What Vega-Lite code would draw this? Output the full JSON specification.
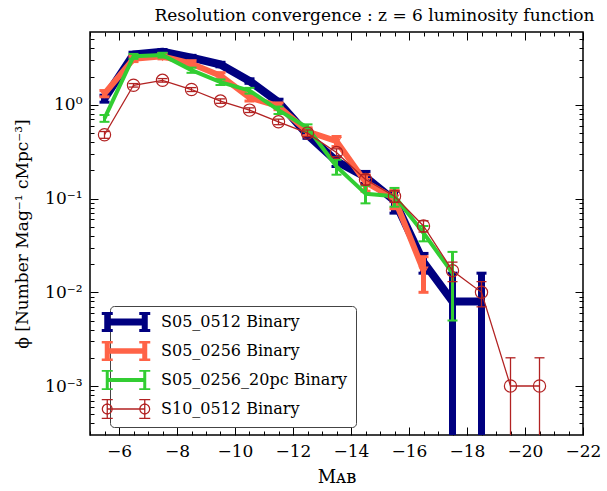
{
  "$schema": "https://vega.github.io/schema/vega-lite/v6.json",
  "width": 493,
  "height": 403,
  "autosize": "none",
  "padding": {"left": 90, "top": 32, "right": 24, "bottom": 56},
  "background": "white",
  "config": {
    "view": {"stroke": "black", "strokeWidth": 1.5},
    "font": "DejaVu Serif"
  },
  "title": {
    "text": "Resolution convergence :  z = 6 luminosity function",
    "font": "DejaVu Serif",
    "fontSize": 17,
    "fontWeight": "normal",
    "color": "black",
    "anchor": "middle",
    "frame": "group",
    "dx": 38,
    "dy": 17,
    "offset": 9,
    "baseline": "alphabetic"
  },
  "data": {
    "values": [
      {"s": "S05_0512 Binary", "M": -5.5, "phi": 1.17, "lo": 1.07, "hi": 1.27},
      {"s": "S05_0512 Binary", "M": -6.5, "phi": 3.45, "lo": 3.25, "hi": 3.65},
      {"s": "S05_0512 Binary", "M": -7.5, "phi": 3.7, "lo": 3.5, "hi": 3.9},
      {"s": "S05_0512 Binary", "M": -8.5, "phi": 3.2, "lo": 3.02, "hi": 3.38},
      {"s": "S05_0512 Binary", "M": -9.5, "phi": 2.7, "lo": 2.55, "hi": 2.85},
      {"s": "S05_0512 Binary", "M": -10.5, "phi": 1.8, "lo": 1.7, "hi": 1.9},
      {"s": "S05_0512 Binary", "M": -11.5, "phi": 1.07, "lo": 0.99, "hi": 1.15},
      {"s": "S05_0512 Binary", "M": -12.5, "phi": 0.48, "lo": 0.44, "hi": 0.52},
      {"s": "S05_0512 Binary", "M": -13.5, "phi": 0.25, "lo": 0.22, "hi": 0.28},
      {"s": "S05_0512 Binary", "M": -14.5, "phi": 0.17, "lo": 0.145, "hi": 0.195},
      {"s": "S05_0512 Binary", "M": -15.5, "phi": 0.095, "lo": 0.07, "hi": 0.12},
      {"s": "S05_0512 Binary", "M": -16.5, "phi": 0.021, "lo": 0.016, "hi": 0.026},
      {"s": "S05_0512 Binary", "M": -17.5, "phi": 0.008, "lo": 0.0001, "hi": 0.016},
      {"s": "S05_0512 Binary", "M": -18.5, "phi": 0.008, "lo": 0.0001, "hi": 0.016},
      {"s": "S05_0256 Binary", "M": -5.5, "phi": 1.32, "lo": 1.22, "hi": 1.42},
      {"s": "S05_0256 Binary", "M": -6.5, "phi": 3.1, "lo": 2.9, "hi": 3.3},
      {"s": "S05_0256 Binary", "M": -7.5, "phi": 3.3, "lo": 3.1, "hi": 3.5},
      {"s": "S05_0256 Binary", "M": -8.5, "phi": 2.75, "lo": 2.55, "hi": 2.95},
      {"s": "S05_0256 Binary", "M": -9.5, "phi": 2.05, "lo": 1.9, "hi": 2.2},
      {"s": "S05_0256 Binary", "M": -10.5, "phi": 1.2, "lo": 1.1, "hi": 1.3},
      {"s": "S05_0256 Binary", "M": -11.5, "phi": 0.97, "lo": 0.89, "hi": 1.05},
      {"s": "S05_0256 Binary", "M": -12.5, "phi": 0.52, "lo": 0.47, "hi": 0.57},
      {"s": "S05_0256 Binary", "M": -13.5, "phi": 0.41, "lo": 0.36, "hi": 0.46},
      {"s": "S05_0256 Binary", "M": -14.5, "phi": 0.15, "lo": 0.12, "hi": 0.18},
      {"s": "S05_0256 Binary", "M": -15.5, "phi": 0.1, "lo": 0.078, "hi": 0.122},
      {"s": "S05_0256 Binary", "M": -16.5, "phi": 0.017, "lo": 0.01, "hi": 0.024},
      {"s": "S05_0256_20pc Binary", "M": -5.5, "phi": 0.72, "lo": 0.66, "hi": 0.78},
      {"s": "S05_0256_20pc Binary", "M": -6.5, "phi": 3.3, "lo": 3.1, "hi": 3.5},
      {"s": "S05_0256_20pc Binary", "M": -7.5, "phi": 3.4, "lo": 3.2, "hi": 3.6},
      {"s": "S05_0256_20pc Binary", "M": -8.5, "phi": 2.35, "lo": 2.2, "hi": 2.5},
      {"s": "S05_0256_20pc Binary", "M": -9.5, "phi": 1.75, "lo": 1.63, "hi": 1.87},
      {"s": "S05_0256_20pc Binary", "M": -10.5, "phi": 1.42, "lo": 1.32, "hi": 1.52},
      {"s": "S05_0256_20pc Binary", "M": -11.5, "phi": 0.88, "lo": 0.8, "hi": 0.96},
      {"s": "S05_0256_20pc Binary", "M": -12.5, "phi": 0.57, "lo": 0.52, "hi": 0.62},
      {"s": "S05_0256_20pc Binary", "M": -13.5, "phi": 0.22, "lo": 0.18, "hi": 0.26},
      {"s": "S05_0256_20pc Binary", "M": -14.5, "phi": 0.113, "lo": 0.089, "hi": 0.137},
      {"s": "S05_0256_20pc Binary", "M": -15.5, "phi": 0.106, "lo": 0.082, "hi": 0.13},
      {"s": "S05_0256_20pc Binary", "M": -16.5, "phi": 0.043, "lo": 0.035, "hi": 0.051},
      {"s": "S05_0256_20pc Binary", "M": -17.5, "phi": 0.016, "lo": 0.005, "hi": 0.027},
      {"s": "S10_0512 Binary", "M": -5.5, "phi": 0.48, "lo": 0.44, "hi": 0.52},
      {"s": "S10_0512 Binary", "M": -6.5, "phi": 1.62, "lo": 1.55, "hi": 1.69},
      {"s": "S10_0512 Binary", "M": -7.5, "phi": 1.83, "lo": 1.75, "hi": 1.91},
      {"s": "S10_0512 Binary", "M": -8.5, "phi": 1.46, "lo": 1.39, "hi": 1.53},
      {"s": "S10_0512 Binary", "M": -9.5, "phi": 1.1, "lo": 1.04, "hi": 1.16},
      {"s": "S10_0512 Binary", "M": -10.5, "phi": 0.88, "lo": 0.83, "hi": 0.93},
      {"s": "S10_0512 Binary", "M": -11.5, "phi": 0.66, "lo": 0.615, "hi": 0.705},
      {"s": "S10_0512 Binary", "M": -12.5, "phi": 0.5, "lo": 0.46, "hi": 0.54},
      {"s": "S10_0512 Binary", "M": -13.5, "phi": 0.31, "lo": 0.28, "hi": 0.34},
      {"s": "S10_0512 Binary", "M": -14.5, "phi": 0.16, "lo": 0.14, "hi": 0.18},
      {"s": "S10_0512 Binary", "M": -15.5, "phi": 0.106, "lo": 0.091, "hi": 0.121},
      {"s": "S10_0512 Binary", "M": -16.5, "phi": 0.051, "lo": 0.044, "hi": 0.058},
      {"s": "S10_0512 Binary", "M": -17.5, "phi": 0.017, "lo": 0.013, "hi": 0.021},
      {"s": "S10_0512 Binary", "M": -18.5, "phi": 0.01, "lo": 0.007, "hi": 0.013},
      {"s": "S10_0512 Binary", "M": -19.5, "phi": 0.001, "lo": 0.0001, "hi": 0.002},
      {"s": "S10_0512 Binary", "M": -20.5, "phi": 0.001, "lo": 0.0001, "hi": 0.002}
    ]
  },
  "resolve": {"axis": {"x": "independent", "y": "independent"}},
  "layer": [
    {
      "encoding": {
        "x": {
          "field": "M", "type": "quantitative",
          "scale": {"domain": [-22, -5], "reverse": true, "nice": false, "zero": false},
          "axis": {
            "orient": "bottom",
            "values": [-5, -5.5, -6, -6.5, -7, -7.5, -8, -8.5, -9, -9.5, -10, -10.5, -11, -11.5, -12, -12.5, -13, -13.5, -14, -14.5, -15, -15.5, -16, -16.5, -17, -17.5, -18, -18.5, -19, -19.5, -20, -20.5, -21, -21.5, -22],
            "format": ".0f",
            "labelExpr": "datum.value % 2 == 0 ? datum.label : ''",
            "tickSize": {"condition": {"test": "datum.value % 2 == 0", "value": -8}, "value": -4},
            "tickColor": "black", "tickWidth": 1,
            "domain": false, "grid": false,
            "labelFont": "DejaVu Serif", "labelFontSize": 17, "labelColor": "black",
            "labelPadding": 16, "labelOverlap": false, "labelFlush": false,
            "title": "Mᴀʙ", "titleFont": "DejaVu Serif", "titleFontSize": 18,
            "titleFontWeight": "normal", "titleColor": "black", "titlePadding": 5
          }
        },
        "color": {
          "field": "s", "type": "nominal",
          "scale": {
            "domain": ["S05_0512 Binary", "S05_0256 Binary", "S05_0256_20pc Binary", "S10_0512 Binary"],
            "range": ["#000080", "#FF6347", "#32CD32", "#B22222"]
          },
          "legend": {
            "orient": "none", "legendX": 20, "legendY": 274,
            "title": null,
            "symbolType": "square",
            "symbolSize": 100,
            "labelFont": "DejaVu Serif", "labelFontSize": 16, "labelColor": "black",
            "labelOffset": 27, "labelLimit": 300,
            "padding": 8, "cornerRadius": 4,
            "strokeColor": "#444444", "fillColor": "white",
            "rowPadding": 9,
            "encode": {
              "symbols": {
                "update": {
                  "strokeWidth": {"value": 0},
                  "fill": {"scale": "color", "field": "value"},
                  "fillOpacity": {"value": 1},
                  "opacity": {"value": 1},
                  "shape": {"signal": "datum.value === 'S05_0512 Binary' ? 'M-3.75,-0.7H3.75V0.7H-3.75ZM-4.35,-2H-3.15V2H-4.35ZM3.15,-2H4.35V2H3.15ZM-4.85,-2H-2.65V-1.4H-4.85ZM-4.85,1.4H-2.65V2H-4.85ZM2.65,-2H4.85V-1.4H2.65ZM2.65,1.4H4.85V2H2.65Z' : datum.value === 'S05_0256 Binary' ? 'M-3.75,-0.55H3.75V0.55H-3.75ZM-4.25,-2H-3.25V2H-4.25ZM3.25,-2H4.25V2H3.25ZM-4.85,-2H-2.65V-1.5H-4.85ZM-4.85,1.5H-2.65V2H-4.85ZM2.65,-2H4.85V-1.5H2.65ZM2.65,1.5H4.85V2H2.65Z' : datum.value === 'S05_0256_20pc Binary' ? 'M-3.75,-0.4H3.75V0.4H-3.75ZM-4.05,-2H-3.45V2H-4.05ZM3.45,-2H4.05V2H3.45ZM-4.85,-2H-2.65V-1.65H-4.85ZM-4.85,1.65H-2.65V2H-4.85ZM2.65,-2H4.85V-1.65H2.65ZM2.65,1.65H4.85V2H2.65Z' : 'M-3.75,-0.13H3.75V0.13H-3.75ZM-3.88,-2H-3.62V2H-3.88ZM3.62,-2H3.88V2H3.62ZM-4.85,-2H-2.65V-1.74H-4.85ZM-4.85,1.74H-2.65V2H-4.85ZM2.65,-2H4.85V-1.74H2.65ZM2.65,1.74H4.85V2H2.65ZM-4.85,0A1.1,1.1 0 1,1 -2.65,0A1.1,1.1 0 1,1 -4.85,0ZM-4.61,0A0.86,0.86 0 1,0 -2.89,0A0.86,0.86 0 1,0 -4.61,0ZM2.65,0A1.1,1.1 0 1,1 4.85,0A1.1,1.1 0 1,1 2.65,0ZM2.89,0A0.86,0.86 0 1,0 4.61,0A0.86,0.86 0 1,0 2.89,0Z'"}
                }
              }
            }
          }
        }
      },
      "layer": [
        {
          "transform": [{"filter": "datum.s === 'S05_0512 Binary'"}],
          "layer": [
            {"mark": {"type": "rule", "strokeWidth": 7, "clip": true},
             "encoding": {"y": {"field": "lo", "type": "quantitative", "scale": {"type": "log", "domain": [0.0003, 6], "nice": false}, "axis": null}, "y2": {"field": "hi"}}},
            {"mark": {"type": "point", "shape": "M-1,0H1", "size": 100, "filled": false, "strokeWidth": 3, "opacity": 1, "clip": true},
             "encoding": {"y": {"field": "lo", "type": "quantitative", "scale": {"type": "log", "domain": [0.0003, 6], "nice": false}, "axis": null}}},
            {"mark": {"type": "point", "shape": "M-1,0H1", "size": 100, "filled": false, "strokeWidth": 3, "opacity": 1, "clip": true},
             "encoding": {"y": {"field": "hi", "type": "quantitative", "scale": {"type": "log", "domain": [0.0003, 6], "nice": false}, "axis": null}}},
            {"mark": {"type": "line", "strokeWidth": 8, "strokeJoin": "round", "clip": true},
             "encoding": {"y": {"field": "phi", "type": "quantitative", "scale": {"type": "log", "domain": [0.0003, 6], "nice": false}, "axis": null}}}
          ]
        },
        {
          "transform": [{"filter": "datum.s === 'S05_0256 Binary'"}],
          "layer": [
            {"mark": {"type": "rule", "strokeWidth": 5, "clip": true},
             "encoding": {"y": {"field": "lo", "type": "quantitative", "scale": {"type": "log", "domain": [0.0003, 6], "nice": false}, "axis": null}, "y2": {"field": "hi"}}},
            {"mark": {"type": "point", "shape": "M-1,0H1", "size": 100, "filled": false, "strokeWidth": 3, "opacity": 1, "clip": true},
             "encoding": {"y": {"field": "lo", "type": "quantitative", "scale": {"type": "log", "domain": [0.0003, 6], "nice": false}, "axis": null}}},
            {"mark": {"type": "point", "shape": "M-1,0H1", "size": 100, "filled": false, "strokeWidth": 3, "opacity": 1, "clip": true},
             "encoding": {"y": {"field": "hi", "type": "quantitative", "scale": {"type": "log", "domain": [0.0003, 6], "nice": false}, "axis": null}}},
            {"mark": {"type": "line", "strokeWidth": 6, "strokeJoin": "round", "clip": true},
             "encoding": {"y": {"field": "phi", "type": "quantitative", "scale": {"type": "log", "domain": [0.0003, 6], "nice": false}, "axis": null}}},
            {"mark": {"type": "point", "shape": "triangle-down", "size": 70, "filled": false, "strokeWidth": 1.2, "opacity": 1, "clip": true},
             "encoding": {"y": {"field": "phi", "type": "quantitative", "scale": {"type": "log", "domain": [0.0003, 6], "nice": false}, "axis": null}}}
          ]
        },
        {
          "transform": [{"filter": "datum.s === 'S05_0256_20pc Binary'"}],
          "layer": [
            {"mark": {"type": "rule", "strokeWidth": 3, "clip": true},
             "encoding": {"y": {"field": "lo", "type": "quantitative", "scale": {"type": "log", "domain": [0.0003, 6], "nice": false}, "axis": null}, "y2": {"field": "hi"}}},
            {"mark": {"type": "point", "shape": "M-1,0H1", "size": 100, "filled": false, "strokeWidth": 2, "opacity": 1, "clip": true},
             "encoding": {"y": {"field": "lo", "type": "quantitative", "scale": {"type": "log", "domain": [0.0003, 6], "nice": false}, "axis": null}}},
            {"mark": {"type": "point", "shape": "M-1,0H1", "size": 100, "filled": false, "strokeWidth": 2, "opacity": 1, "clip": true},
             "encoding": {"y": {"field": "hi", "type": "quantitative", "scale": {"type": "log", "domain": [0.0003, 6], "nice": false}, "axis": null}}},
            {"mark": {"type": "line", "strokeWidth": 4, "strokeJoin": "round", "clip": true},
             "encoding": {"y": {"field": "phi", "type": "quantitative", "scale": {"type": "log", "domain": [0.0003, 6], "nice": false}, "axis": null}}}
          ]
        },
        {
          "transform": [{"filter": "datum.s === 'S10_0512 Binary'"}],
          "layer": [
            {"mark": {"type": "rule", "strokeWidth": 1.3, "clip": true},
             "encoding": {"y": {"field": "lo", "type": "quantitative", "scale": {"type": "log", "domain": [0.0003, 6], "nice": false}, "axis": null}, "y2": {"field": "hi"}}},
            {"mark": {"type": "point", "shape": "M-1,0H1", "size": 100, "filled": false, "strokeWidth": 1.3, "opacity": 1, "clip": true},
             "encoding": {"y": {"field": "lo", "type": "quantitative", "scale": {"type": "log", "domain": [0.0003, 6], "nice": false}, "axis": null}}},
            {"mark": {"type": "point", "shape": "M-1,0H1", "size": 100, "filled": false, "strokeWidth": 1.3, "opacity": 1, "clip": true},
             "encoding": {"y": {"field": "hi", "type": "quantitative", "scale": {"type": "log", "domain": [0.0003, 6], "nice": false}, "axis": null}}},
            {"mark": {"type": "line", "strokeWidth": 1.3, "clip": true},
             "encoding": {"y": {"field": "phi", "type": "quantitative", "scale": {"type": "log", "domain": [0.0003, 6], "nice": false}, "axis": null}}},
            {"mark": {"type": "point", "shape": "circle", "size": 150, "filled": false, "strokeWidth": 1.2, "opacity": 1, "clip": true},
             "encoding": {"y": {"field": "phi", "type": "quantitative", "scale": {"type": "log", "domain": [0.0003, 6], "nice": false}, "axis": null}}}
          ]
        }
      ]
    },
    {
      "mark": {"type": "point", "opacity": 0},
      "encoding": {
        "x": {
          "field": "M", "type": "quantitative",
          "scale": {"domain": [-22, -5], "reverse": true, "nice": false, "zero": false},
          "axis": null
        },
        "y": {
          "field": "phi", "type": "quantitative",
          "scale": {"type": "log", "domain": [0.0003, 6], "nice": false},
          "axis": {
            "orient": "left",
            "values": [0.0004, 0.0005, 0.0006, 0.0007, 0.0008, 0.0009, 0.001, 0.002, 0.003, 0.004, 0.005, 0.006, 0.007, 0.008, 0.009, 0.01, 0.02, 0.03, 0.04, 0.05, 0.06, 0.07, 0.08, 0.09, 0.1, 0.2, 0.3, 0.4, 0.5, 0.6, 0.7, 0.8, 0.9, 1, 2, 3, 4, 5],
            "labelExpr": "datum.value == 1 ? '10⁰' : datum.value == 0.1 ? '10⁻¹' : datum.value == 0.01 ? '10⁻²' : datum.value == 0.001 ? '10⁻³' : ''",
            "tickSize": {"condition": {"test": "datum.value == 1 || datum.value == 0.1 || datum.value == 0.01 || datum.value == 0.001", "value": -8}, "value": -4},
            "tickColor": "black", "tickWidth": 1,
            "domain": false, "grid": false,
            "labelFont": "DejaVu Serif", "labelFontSize": 17, "labelColor": "black",
            "labelPadding": 16, "labelOverlap": false, "labelFlush": false,
            "title": "ϕ [Number Mag⁻¹ cMpc⁻³]", "titleFont": "DejaVu Serif", "titleFontSize": 17,
            "titleFontWeight": "normal", "titleColor": "black", "titlePadding": 13
          }
        }
      }
    },
    {
      "mark": {"type": "point", "opacity": 0},
      "encoding": {
        "x": {
          "field": "M", "type": "quantitative",
          "scale": {"domain": [-22, -5], "reverse": true, "nice": false, "zero": false},
          "axis": {
            "orient": "top",
            "values": [-5, -5.5, -6, -6.5, -7, -7.5, -8, -8.5, -9, -9.5, -10, -10.5, -11, -11.5, -12, -12.5, -13, -13.5, -14, -14.5, -15, -15.5, -16, -16.5, -17, -17.5, -18, -18.5, -19, -19.5, -20, -20.5, -21, -21.5, -22],
            "labels": false, "title": null, "domain": false, "grid": false,
            "tickSize": {"condition": {"test": "datum.value % 2 == 0", "value": -8}, "value": -4},
            "tickColor": "black", "tickWidth": 1
          }
        },
        "y": {
          "field": "phi", "type": "quantitative",
          "scale": {"type": "log", "domain": [0.0003, 6], "nice": false},
          "axis": {
            "orient": "right",
            "values": [0.0004, 0.0005, 0.0006, 0.0007, 0.0008, 0.0009, 0.001, 0.002, 0.003, 0.004, 0.005, 0.006, 0.007, 0.008, 0.009, 0.01, 0.02, 0.03, 0.04, 0.05, 0.06, 0.07, 0.08, 0.09, 0.1, 0.2, 0.3, 0.4, 0.5, 0.6, 0.7, 0.8, 0.9, 1, 2, 3, 4, 5],
            "labels": false, "title": null, "domain": false, "grid": false,
            "tickSize": {"condition": {"test": "datum.value == 1 || datum.value == 0.1 || datum.value == 0.01 || datum.value == 0.001", "value": -8}, "value": -4},
            "tickColor": "black", "tickWidth": 1
          }
        }
      }
    }
  ]
}
